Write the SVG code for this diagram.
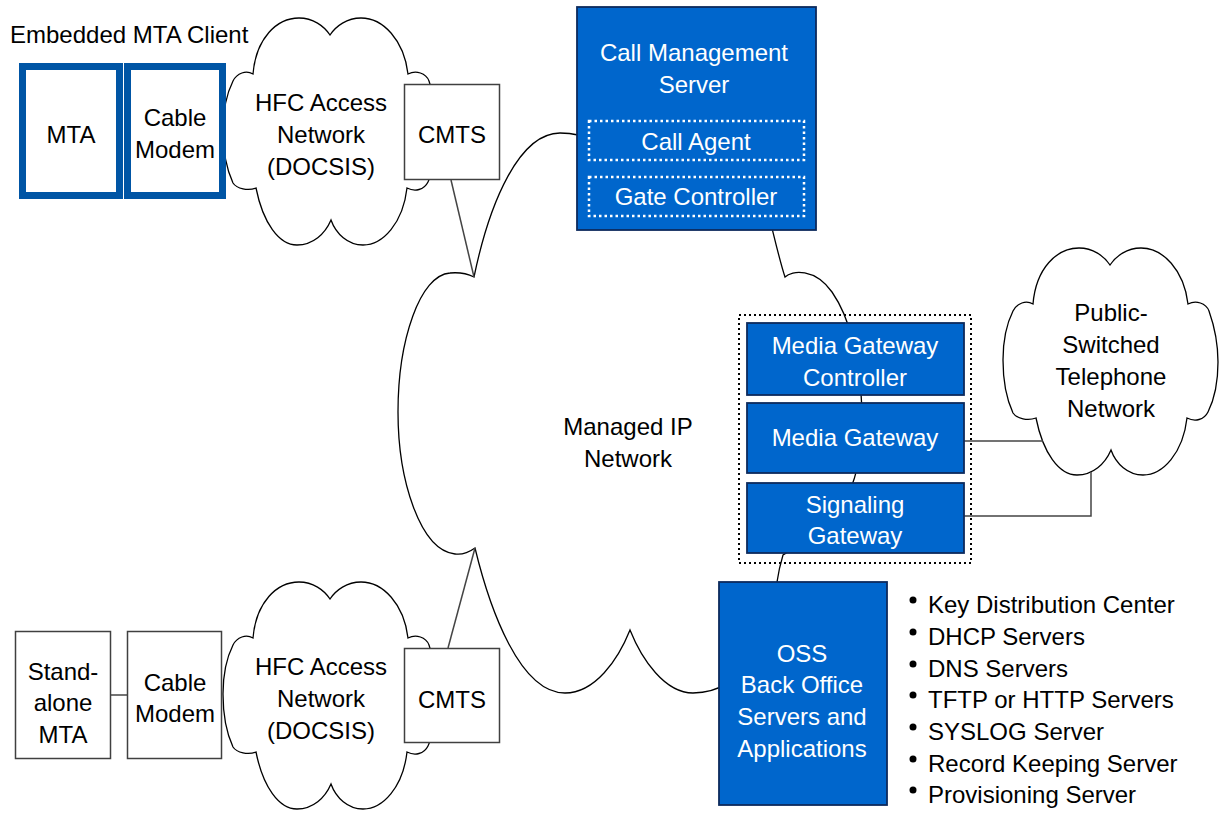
<svg xmlns="http://www.w3.org/2000/svg" xmlns:xlink="http://www.w3.org/1999/xlink" width="1220" height="814" viewBox="0 0 1220 814">
<style>
text{font-family:"Liberation Sans",Arial,sans-serif;font-size:24px;fill:#000}
.c{text-anchor:middle}
.w{fill:#fff}
.cloud{fill:#fff;stroke:#000;stroke-width:1.3}
.wbox{fill:#fff;stroke:#404040;stroke-width:1.5}
.bbox{fill:#0066CC;stroke:#0d2a5c;stroke-width:1.8}
.emb{fill:#fff;stroke:#0055A5;stroke-width:7}
.wdot{fill:none;stroke:#fff;stroke-width:2.5;stroke-dasharray:2.5 3}
.kdot{fill:none;stroke:#000;stroke-width:2;stroke-dasharray:2 3}
.ln{fill:none;stroke:#444;stroke-width:1.5}
</style>
<defs>
<path id="cl" d="M 30,56 C 33,20 54,0 76,0 C 90,0 101,8 107,17 C 113,8 124,0 138,0 C 160,0 181,22 185,56 C 193,52 203,55 206,63 C 212,80 215,100 215,114 C 215,134 211,152 205,164 C 201,172 192,174 184,170 C 180,205 160,227 140,227 C 125,227 113,216 108,202 C 102,216 90,227 74,227 C 56,227 40,205 33,170 C 25,173 14,171 10,165 C 3,150 0,130 0,112 C 0,95 3,77 10,63 C 14,55 23,52 30,56 Z"/>
</defs>

<g id="managed-ip-network">
<path class="cloud" d="M 474,277 C 490,200 520,133 560,133 C 568,133 574,134 578,135 L 770,220 C 775,240 780,262 785,277 C 792,270 815,268 832,292 C 850,318 860,360 862,410 C 862,450 858,470 852,485 C 835,525 800,545 783,555 C 780,565 778,575 777,582 C 790,630 745,693 693,693 C 665,693 642,660 630,630 C 618,660 595,693 565,693 C 520,693 490,610 475,548 C 468,553 462,555 455,554 C 420,550 398,480 398,412 C 398,340 420,275 450,273 C 460,272 468,274 474,277 Z"/>
<text class="c" x="628" y="435">Managed IP</text>
<text class="c" x="628" y="467">Network</text>
</g>

<g id="hfc-top">
<use xlink:href="#cl" href="#cl" class="cloud" transform="translate(223,18)"/>
<text class="c" x="321" y="111">HFC Access</text>
<text class="c" x="321" y="143">Network</text>
<text class="c" x="321" y="175">(DOCSIS)</text>
</g>

<g id="hfc-bottom">
<use xlink:href="#cl" href="#cl" class="cloud" transform="translate(223,582)"/>
<text class="c" x="321" y="675">HFC Access</text>
<text class="c" x="321" y="707">Network</text>
<text class="c" x="321" y="739">(DOCSIS)</text>
</g>

<g id="pstn">
<use xlink:href="#cl" href="#cl" class="cloud" transform="translate(1003,248)"/>
<text class="c" x="1111" y="321">Public-</text>
<text class="c" x="1111" y="353">Switched</text>
<text class="c" x="1111" y="385">Telephone</text>
<text class="c" x="1111" y="417">Network</text>
</g>

<g id="connectors">
<line class="ln" x1="451" y1="180" x2="474" y2="277"/>
<line class="ln" x1="448" y1="648" x2="475" y2="548"/>
<line class="ln" x1="111" y1="695" x2="127" y2="695"/>
<polyline class="ln" points="964,441 1043,441"/>
<polyline class="ln" points="964,516 1091,516 1091,472"/>
</g>

<g id="embedded-mta-client">
<text x="10" y="43">Embedded MTA Client</text>
<g id="mta">
<rect class="emb" x="22.5" y="66.5" width="97" height="129"/>
<text class="c" x="71" y="143">MTA</text>
</g>
<g id="cable-modem-top">
<rect class="emb" x="127.5" y="66.5" width="95" height="129"/>
<text class="c" x="175" y="126">Cable</text>
<text class="c" x="175" y="158">Modem</text>
</g>
</g>

<g id="cmts-top">
<rect class="wbox" x="404.5" y="84.5" width="95" height="95"/>
<text class="c" x="452" y="143">CMTS</text>
</g>

<g id="cmts-bottom">
<rect class="wbox" x="404.5" y="648.5" width="95" height="94"/>
<text class="c" x="452" y="708">CMTS</text>
</g>

<g id="standalone-mta">
<rect class="wbox" x="15.5" y="631.5" width="95" height="127"/>
<text class="c" x="63" y="680">Stand-</text>
<text class="c" x="63" y="711">alone</text>
<text class="c" x="63" y="743">MTA</text>
</g>

<g id="cable-modem-bottom">
<rect class="wbox" x="127.5" y="631.5" width="94" height="127"/>
<text class="c" x="175" y="691">Cable</text>
<text class="c" x="175" y="722">Modem</text>
</g>

<g id="call-management-server">
<rect class="bbox" x="577" y="7" width="239" height="223"/>
<text class="c w" x="694" y="61">Call Management</text>
<text class="c w" x="694" y="93">Server</text>
<g id="call-agent">
<rect class="wdot" x="589" y="121" width="215" height="39"/>
<text class="c w" x="696" y="150">Call Agent</text>
</g>
<g id="gate-controller">
<rect class="wdot" x="589" y="177" width="215" height="39"/>
<text class="c w" x="696" y="205">Gate Controller</text>
</g>
</g>

<g id="gateway-group">
<rect class="kdot" x="739" y="315" width="232" height="248"/>
<g id="media-gateway-controller">
<rect class="bbox" x="747" y="323" width="217" height="72"/>
<text class="c w" x="855" y="354">Media Gateway</text>
<text class="c w" x="855" y="386">Controller</text>
</g>
<g id="media-gateway">
<rect class="bbox" x="747" y="403" width="217" height="70"/>
<text class="c w" x="855" y="446">Media Gateway</text>
</g>
<g id="signaling-gateway">
<rect class="bbox" x="747" y="483" width="217" height="70"/>
<text class="c w" x="855" y="513">Signaling</text>
<text class="c w" x="855" y="544">Gateway</text>
</g>
</g>

<g id="oss">
<rect class="bbox" x="719" y="582" width="168" height="223"/>
<text class="c w" x="802" y="662">OSS</text>
<text class="c w" x="802" y="693">Back Office</text>
<text class="c w" x="802" y="725">Servers and</text>
<text class="c w" x="802" y="757">Applications</text>
</g>

<g id="oss-list">
<circle cx="913" cy="600" r="3.5"/>
<circle cx="913" cy="632" r="3.5"/>
<circle cx="913" cy="664" r="3.5"/>
<circle cx="913" cy="695" r="3.5"/>
<circle cx="913" cy="727" r="3.5"/>
<circle cx="913" cy="759" r="3.5"/>
<circle cx="913" cy="790" r="3.5"/>
<text x="928" y="613">Key Distribution Center</text>
<text x="928" y="645">DHCP Servers</text>
<text x="928" y="677">DNS Servers</text>
<text x="928" y="708">TFTP or HTTP Servers</text>
<text x="928" y="740">SYSLOG Server</text>
<text x="928" y="772">Record Keeping Server</text>
<text x="928" y="803">Provisioning Server</text>
</g>
</svg>
